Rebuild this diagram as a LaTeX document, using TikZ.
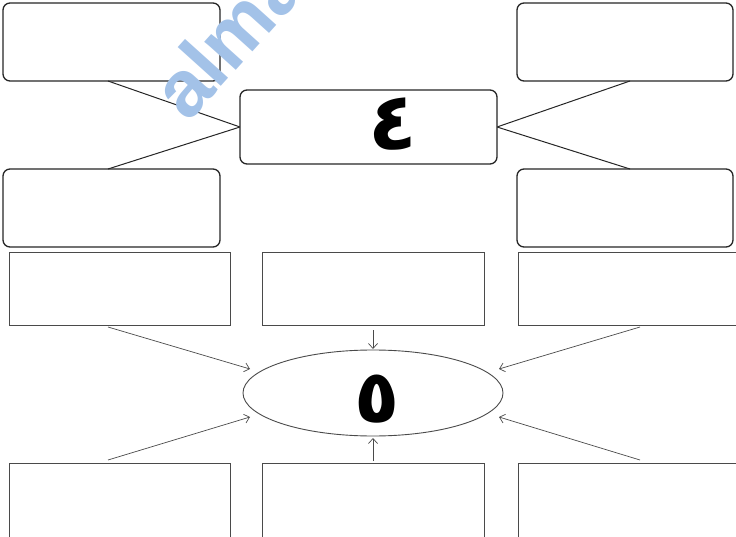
\documentclass[tikz,border=0pt]{standalone}
\usepackage{fontspec}
\setmainfont{Liberation Sans}
\newfontfamily\arabicfont[Script=Arabic]{DejaVu Sans}
\TeXXeTstate=1
\usetikzlibrary{arrows.meta,shapes.geometric}
\definecolor{wm}{HTML}{A3C2E8}
\definecolor{rectgray}{HTML}{4A4A4A}
\begin{document}
\begin{tikzpicture}[x=1pt,y=-1pt,
  rbox/.style={draw=black!85,line width=1.3pt,rounded corners=7pt,fill=white},
  sbox/.style={draw=rectgray,line width=0.9pt},
  link/.style={draw=black!85,line width=1pt},
  arr/.style={draw=rectgray,line width=0.7pt,-{Straight Barb[length=5pt,width=9pt]}}]
\useasboundingbox (0,0) rectangle (736,537);
\clip (0,0) rectangle (736,537);
% rounded boxes
\path[rbox] (3,3) rectangle (220,81);
\coordinate (tl) at (108,81);
\path[rbox] (517,3) rectangle (733,81);
\coordinate (tr) at (630,81);
\path[rbox] (3,169) rectangle (220,247);
\coordinate (ml) at (108,169);
\path[rbox] (517,169) rectangle (733,247);
\coordinate (mr) at (630,169);
\coordinate (cl) at (240,127);
\coordinate (cr) at (497,127);
\draw[link] (tl) -- (cl) -- (ml);
\draw[link] (tr) -- (cr) -- (mr);
\node[rbox,minimum width=257pt,minimum height=74pt,inner sep=0] (center) at (368.5,127) {};
\node[font=\arabicfont\bfseries\fontsize{80}{80}\selectfont,inner sep=0] (four) at (393,124) {\beginR ٤\endR};
% rectangles
\node[sbox,minimum width=221pt,minimum height=73pt,inner sep=0] (r1) at (119.5,288.5) {};
\node[sbox,minimum width=222pt,minimum height=73pt,inner sep=0] (r2) at (373,288.5) {};
\node[sbox,minimum width=222pt,minimum height=73pt,inner sep=0] (r3) at (629,288.5) {};
\node[sbox,minimum width=221pt,minimum height=74pt,inner sep=0] (r4) at (119.5,500) {};
\node[sbox,minimum width=222pt,minimum height=74pt,inner sep=0] (r5) at (373,500) {};
\node[sbox,minimum width=222pt,minimum height=74pt,inner sep=0] (r6) at (629,500) {};
% ellipse
\node[ellipse,draw=rectgray,line width=0.9pt,minimum width=260pt,minimum height=86pt,inner sep=0] (ell) at (373,393) {};
\node[font=\arabicfont\bfseries\fontsize{74}{74}\selectfont,inner sep=0] (five) at (377,399) {\beginR ٥\endR};
% arrows
\coordinate (a1) at (108,327);
\coordinate (a3) at (640,327);
\coordinate (a4) at (108,460);
\coordinate (a6) at (640,460);
\coordinate (a2) at (373,330);
\coordinate (a5) at (373,461);
\coordinate (e1) at (250,369);
\coordinate (e3) at (499,369);
\coordinate (e4) at (250,417);
\coordinate (e6) at (499,417);
\coordinate (e2) at (373,349);
\coordinate (e5) at (373,438);
\draw[arr] (a1) -- (e1);
\draw[arr] (a3) -- (e3);
\draw[arr] (a4) -- (e4);
\draw[arr] (a6) -- (e6);
\draw[arr] (a2) -- (e2);
\draw[arr] (a5) -- (e5);
% watermark
\node[text=wm,font=\bfseries\fontsize{80}{80}\selectfont,rotate=48,anchor=base west,inner sep=0] (wmk) at (188,124) {alma};
\end{tikzpicture}
\end{document}
